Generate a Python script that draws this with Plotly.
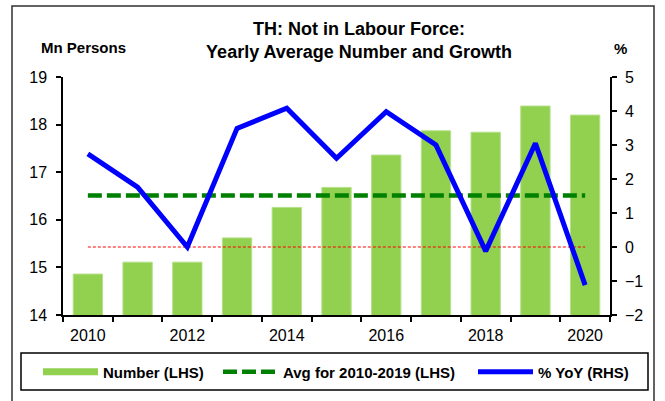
import plotly.graph_objects as go

years = [2010, 2011, 2012, 2013, 2014, 2015, 2016, 2017, 2018, 2019, 2020]
number_mn = [14.86, 15.11, 15.11, 15.62, 16.26, 16.68, 17.36, 17.87, 17.84, 18.39, 18.20]
yoy_pct = [2.74, 1.76, 0.0, 3.49, 4.08, 2.61, 3.98, 3.00, -0.12, 3.05, -1.12]
label_years = [2010, 2012, 2014, 2016, 2018, 2020]

avg_2010_2019 = sum(number_mn[:10]) / 10
avg_line = [avg_2010_2019] * len(years)
zero_line = [0] * len(years)

W, H = 665, 401
L, R, T, B = 63, 55, 77, 86
PW, PH = W - L - R, H - T - B


def px_x(p):
    return (p - L) / PW


def px_y(p):
    return (H - B - p) / PH


FONT = "Liberation Sans, Arial, sans-serif"

fig = go.Figure()
fig.add_trace(go.Bar(x=years, y=number_mn, yaxis="y", width=0.59,
                     marker=dict(color="#92D050", line=dict(color="#B5E08A", width=1)),
                     showlegend=False, name="Number (LHS)"))
# legend stand-in for the bars (wide flat swatch)
fig.add_trace(go.Scatter(x=[None], y=[None], mode="lines", legend="legend",
                         name="<b>Number (LHS)</b>",
                         line=dict(color="#92D050", width=7)))
fig.add_trace(go.Scatter(x=years, y=avg_line, yaxis="y", mode="lines", legend="legend2",
                         name="<b>Avg for 2010-2019 (LHS)</b>",
                         line=dict(color="#008000", width=4.5, dash="14px,5px")))
fig.add_trace(go.Scatter(x=years, y=zero_line, yaxis="y2", mode="lines",
                         showlegend=False, hoverinfo="skip",
                         line=dict(color="#FF0000", width=1, dash="3px,2px")))
fig.add_trace(go.Scatter(x=years, y=yoy_pct, yaxis="y2", mode="lines", legend="legend3",
                         name="<b>% YoY (RHS)</b>",
                         line=dict(color="#0000FF", width=5)))

leg_common = dict(orientation="h", xanchor="left", yanchor="middle", y=px_y(372),
                  borderwidth=0, bgcolor="rgba(0,0,0,0)",
                  font=dict(size=15, family=FONT), itemwidth=55)

fig.update_layout(
    width=W, height=H,
    margin=dict(l=L, r=R, t=T, b=B),
    paper_bgcolor="white", plot_bgcolor="white",
    font=dict(family=FONT, color="black", size=16),
    title=dict(text="<b>TH: Not in Labour Force:<br>Yearly Average Number and Growth</b>",
               x=359 / W, xanchor="center",
               y=1 - 35 / H, yanchor="middle",
               font=dict(size=18, family=FONT)),
    xaxis=dict(range=[2009.5, 2020.5], tickvals=label_years,
               ticktext=[str(y) for y in label_years],
               ticks="outside", ticklen=5, tickcolor="rgba(0,0,0,0)",
               minor=dict(tick0=2009.5, dtick=1, ticks="outside", ticklen=5,
                          tickcolor="black", tickwidth=1.5, showgrid=False),
               showline=True, linecolor="black", linewidth=1.5,
               showgrid=False, zeroline=False, tickfont=dict(size=16)),
    yaxis=dict(range=[14, 19], dtick=1, ticks="outside", ticklen=5,
               tickwidth=1.5, tickcolor="black", ticklabelstandoff=6,
               showline=True, linecolor="black", linewidth=1.5,
               showgrid=False, zeroline=False, tickfont=dict(size=16)),
    yaxis2=dict(range=[-2, 5], dtick=1, overlaying="y", side="right",
                ticks="outside", ticklen=5, tickwidth=1.5, tickcolor="black",
                ticklabelstandoff=5,
                showline=True, linecolor="black", linewidth=1.5,
                showgrid=False, zeroline=False, tickfont=dict(size=16)),
    legend=dict(x=px_x(38), **leg_common),
    legend2=dict(x=px_x(218), **leg_common),
    legend3=dict(x=px_x(473), **leg_common),
    annotations=[
        dict(text="<b>Mn Persons</b>", xref="paper", yref="paper",
             x=px_x(83), y=px_y(47), xanchor="center", yanchor="middle",
             showarrow=False, font=dict(size=15, family=FONT)),
        dict(text="<b>%</b>", xref="paper", yref="paper",
             x=px_x(620), y=px_y(49), xanchor="center", yanchor="middle",
             showarrow=False, font=dict(size=15, family=FONT)),
    ],
    shapes=[
        # outer chart border
        dict(type="rect", xref="paper", yref="paper",
             x0=px_x(12), x1=px_x(654), y0=px_y(405), y1=px_y(6),
             line=dict(color="#303030", width=1.5), fillcolor="rgba(0,0,0,0)",
             layer="below"),
        # legend frame
        dict(type="rect", xref="paper", yref="paper",
             x0=px_x(21), x1=px_x(648), y0=px_y(390), y1=px_y(353),
             line=dict(color="black", width=1.5), fillcolor="rgba(0,0,0,0)",
             layer="below"),
    ],
)

fig.write_html("out.html", config={"displayModeBar": False},
               post_script="document.body.style.margin='0px';document.body.style.overflow='hidden';")
